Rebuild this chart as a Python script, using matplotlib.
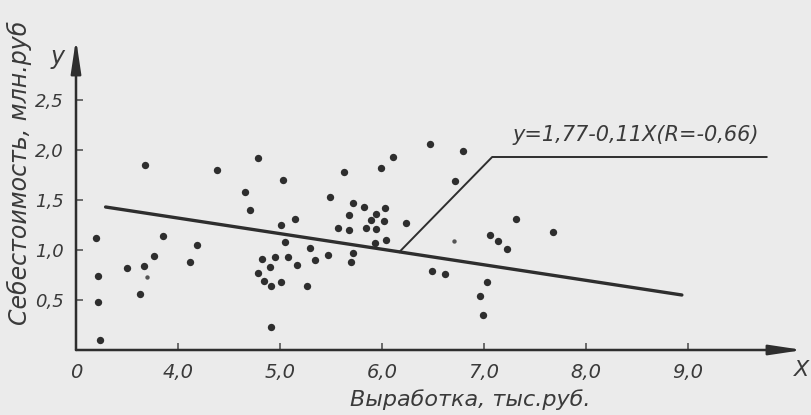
import matplotlib
matplotlib.use("Agg")
import matplotlib.pyplot as plt

# output, thousand rub (the axis origin "0" sits at 3.0)
vyrabotka = [3.20, 3.22, 3.22, 3.24, 3.68, 3.50, 3.67, 3.76, 3.85, 3.63,
             4.12, 4.19, 4.38, 4.66, 4.71, 4.78, 5.03, 5.01, 5.15, 5.05,
             4.82, 4.95, 4.90, 4.78, 4.84, 4.91, 5.01, 5.08, 5.17, 5.29,
             5.34, 5.26, 4.91, 5.49, 5.47, 5.57, 5.63, 5.68, 5.68, 5.72,
             5.72, 5.70, 5.82, 5.84, 5.89, 5.94, 5.94, 6.03, 6.02, 5.93,
             6.04, 5.99, 6.11, 6.24, 6.47, 6.79, 6.72, 7.31, 7.68, 7.06,
             7.14, 7.23, 6.49, 6.62, 7.03, 6.96, 6.99]
# cost, million rub
sebestoimost = [1.12, 0.74, 0.48, 0.10, 1.85, 0.82, 0.84, 0.94, 1.14, 0.56,
                0.88, 1.05, 1.80, 1.58, 1.40, 1.92, 1.70, 1.25, 1.31, 1.08,
                0.91, 0.93, 0.83, 0.77, 0.69, 0.64, 0.68, 0.93, 0.85, 1.02,
                0.90, 0.64, 0.23, 1.53, 0.95, 1.22, 1.78, 1.35, 1.20, 1.47,
                0.97, 0.88, 1.43, 1.22, 1.30, 1.36, 1.21, 1.42, 1.29, 1.07,
                1.10, 1.82, 1.93, 1.27, 2.06, 1.99, 1.69, 1.31, 1.18, 1.15,
                1.09, 1.01, 0.79, 0.76, 0.68, 0.54, 0.35]
# two faint small dots
small_x = [3.70, 6.71]
small_y = [0.73, 1.09]

# regression line as drawn in the figure
line_x = [3.29, 8.94]
line_y = [1.43, 0.55]

# leader line for the equation label
leader_x = [6.17, 7.08, 9.77]
leader_y = [0.98, 1.93, 1.93]

x_ticks = [3, 4, 5, 6, 7, 8, 9]
x_ticklabels = ["0", "4,0", "5,0", "6,0", "7,0", "8,0", "9,0"]
y_ticks = [0.5, 1.0, 1.5, 2.0, 2.5]
y_ticklabels = ["0,5", "1,0", "1,5", "2,0", "2,5"]

bg = "#ebebeb"
ink = "#2e2e2e"
txt = "#3a3a3a"
font = dict(family="DejaVu Sans", style="italic")

fig = plt.figure(figsize=(8.12, 4.15), dpi=100, facecolor=bg)
ax = fig.add_axes([76 / 812, 65 / 415, (803 - 76) / 812, (350 - 39) / 415])
ax.set_facecolor(bg)
ax.set_xlim(3, 3 + (803 - 76) / 102)
ax.set_ylim(0, (350 - 39) / 100)
for s in ax.spines.values():
    s.set_visible(False)

# axes with arrows
arrow = dict(arrowstyle="-|>,head_length=1.0,head_width=0.15", lw=1.8,
             color=ink, mutation_scale=20, shrinkA=0, shrinkB=0)
ax.annotate("", xy=(1, 0), xytext=(0, 0), xycoords="axes fraction",
            arrowprops=arrow, annotation_clip=False)
ax.annotate("", xy=(0, 1), xytext=(0, 0), xycoords="axes fraction",
            arrowprops=arrow, annotation_clip=False)

ax.set_xticks(x_ticks)
ax.set_xticklabels(x_ticklabels, fontsize=14, color=txt, **font)
ax.set_yticks(y_ticks)
ax.set_yticklabels(y_ticklabels, fontsize=13, color=txt, **font)
ax.tick_params(direction="in", length=5, width=1.2, color="#555555", pad=9)

ax.scatter(vyrabotka, sebestoimost, s=28, color=ink, zorder=3, linewidths=0)
ax.scatter(small_x, small_y, s=10, color="#555555", zorder=3, linewidths=0)

ax.plot(line_x, line_y, color=ink, lw=2.4, solid_capstyle="round")
ax.plot(leader_x, leader_y, color=ink, lw=1.4)

ax.text(7.28, 2.05, "y=1,77-0,11X(R=-0,66)", fontsize=15, color=txt,
        ha="left", va="bottom", **font)

fig.text(58 / 812, 1 - 57 / 415, "y", fontsize=17, color=txt,
         ha="center", va="center", **font)
fig.text(802 / 812, 1 - 370 / 415, "X", fontsize=16, color=txt,
         ha="center", va="center", **font)
fig.text(470 / 812, 1 - 400 / 415, "Выработка, тыс.руб.", fontsize=16,
         color=txt, ha="center", va="center", **font)
fig.text(19 / 812, 1 - 173 / 415, "Себестоимость, млн.руб", fontsize=17,
         color=txt, ha="center", va="center", rotation=90, **font)

fig.savefig("out.png", dpi=100, facecolor=bg)
